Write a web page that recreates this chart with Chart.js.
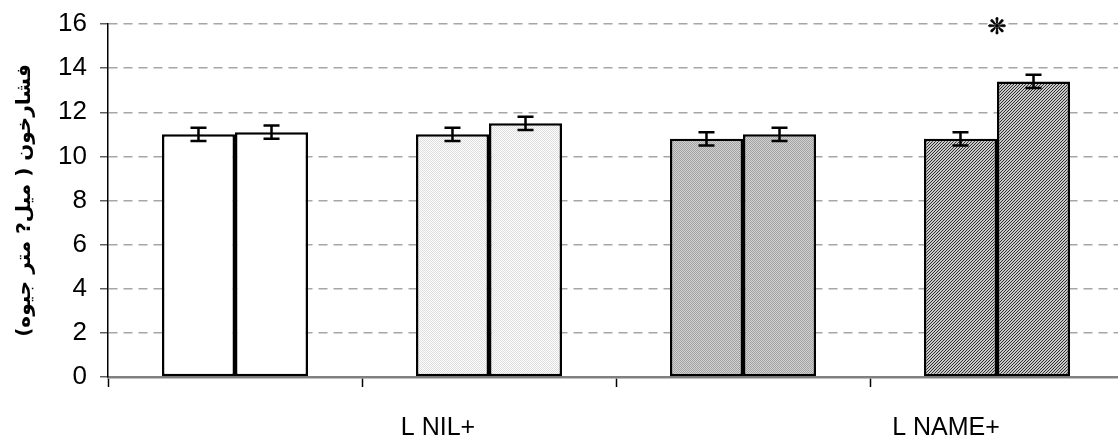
<!DOCTYPE html>
<html>
<head>
<meta charset="utf-8">
<script src="https://cdn.jsdelivr.net/npm/chart.js@4"></script>
<style>
  html, body { margin: 0; padding: 0; background: #fff; overflow: hidden; }
  #wrap { width: 1124px; height: 444px; }
</style>
</head>
<body>
<div id="wrap"><canvas id="myChart" width="1124" height="444"></canvas></div>
<script>
// datos
const categorias = ['', 'L NIL+', '', 'L NAME+'];
const serieA = [11.0, 11.0, 10.8, 10.8];
const serieB = [11.1, 11.5, 11.0, 13.4];
const errorA = [0.3, 0.3, 0.3, 0.3];
const errorB = [0.3, 0.3, 0.3, 0.3];
const marcaGrupo = [3];
const marcaValor = [15.8];
const ticksY = [0, 2, 4, 6, 8, 10, 12, 14, 16];
const tituloY = 'فشارخون ( میل? متر جیوه)';

// tramas de relleno para cada grupo
function trama(dibujar, tam) {
    const c = document.createElement('canvas');
    c.width = tam; c.height = tam;
    const g = c.getContext('2d');
    dibujar(g);
    return g.createPattern(c, 'repeat');
}

const ctx = document.getElementById('myChart').getContext('2d');

const rellenoBlanco = '#ffffff';
const rellenoClaro = trama(g => {
    g.fillStyle = '#ffffff'; g.fillRect(0, 0, 2, 2);
    g.fillStyle = '#dcdcdc'; g.fillRect(0, 0, 1, 1); g.fillRect(1, 1, 1, 1);
}, 2);
const rellenoMedio = trama(g => {
    g.fillStyle = '#d2d2d2'; g.fillRect(0, 0, 2, 2);
    g.fillStyle = '#a2a2a2'; g.fillRect(0, 0, 1, 1); g.fillRect(1, 1, 1, 1);
}, 2);
const rellenoOscuro = trama(g => {
    g.fillStyle = '#c8c8c8'; g.fillRect(0, 0, 3, 3);
    g.fillStyle = '#303030';
    g.fillRect(2, 0, 1, 1); g.fillRect(1, 1, 1, 1); g.fillRect(0, 2, 1, 1);
}, 3);
const rellenos = [rellenoBlanco, rellenoClaro, rellenoMedio, rellenoOscuro];

const errores = [errorA, errorB];

const pluginErrores = {
    id: 'errores',
    afterDatasetsDraw(chart) {
        const c = chart.ctx;
        const y = chart.scales.y;
        c.save();
        c.strokeStyle = '#000';
        c.lineWidth = 2.5;
        chart.data.datasets.forEach((ds, i) => {
            const meta = chart.getDatasetMeta(i);
            meta.data.forEach((bar, j) => {
                const v = ds.data[j];
                const e = errores[i][j];
                const yArr = y.getPixelForValue(v + e);
                const yAb = y.getPixelForValue(v - e);
                c.beginPath();
                c.moveTo(bar.x, yArr); c.lineTo(bar.x, yAb);
                c.moveTo(bar.x - 8, yArr); c.lineTo(bar.x + 8, yArr);
                c.moveTo(bar.x - 8, yAb); c.lineTo(bar.x + 8, yAb);
                c.stroke();
            });
        });
        // marca de significancia
        c.fillStyle = '#000';
        c.strokeStyle = '#000';
        c.lineWidth = 0.8;
        c.font = '22px "DejaVu Sans"';
        c.textAlign = 'center';
        c.textBaseline = 'middle';
        marcaGrupo.forEach((g, k) => {
            const px = chart.scales.x.getPixelForValue(g);
            const py = y.getPixelForValue(marcaValor[k]);
            c.fillText('❊', px, py);
            c.strokeText('❊', px, py);
        });
        c.restore();
    }
};

new Chart(ctx, {
    type: 'bar',
    data: {
        labels: categorias,
        datasets: [
            {
                data: serieA,
                backgroundColor: rellenos,
                borderColor: '#000',
                borderWidth: 2.5,
                borderSkipped: false
            },
            {
                data: serieB,
                backgroundColor: rellenos,
                borderColor: '#000',
                borderWidth: 2.5,
                borderSkipped: false
            }
        ]
    },
    plugins: [pluginErrores],
    options: {
        responsive: false,
        animation: false,
        categoryPercentage: 0.575,
        barPercentage: 1.0,
        layout: { padding: { top: 4, right: 0, bottom: 0, left: 0 } },
        plugins: {
            legend: { display: false },
            tooltip: { enabled: false }
        },
        scales: {
            x: {
                grid: {
                    offset: true,
                    drawOnChartArea: false,
                    tickLength: 10,
                    tickColor: '#000',
                    tickWidth: 1.5
                },
                border: { color: '#808080', width: 2.5 },
                ticks: {
                    color: '#000',
                    font: { family: 'Liberation Sans', size: 25 },
                    padding: 26,
                    labelOffset: -51,
                    maxRotation: 0,
                    autoSkip: false
                },
                afterFit(s) { s.height = 67; }
            },
            y: {
                min: 0,
                max: 16,
                afterBuildTicks(s) { s.ticks = ticksY.map(v => ({ value: v })); },
                grid: {
                    color: '#a6a6a6',
                    lineWidth: 1.5,
                    tickLength: 8,
                    tickColor: '#606060',
                    tickWidth: 1.5
                },
                border: { color: '#000', width: 1.5, dash: [9, 6] },
                ticks: {
                    color: '#000',
                    font: { family: 'Liberation Sans', size: 26, lineHeight: 0.85 },
                    padding: 13
                },
                title: {
                    display: true,
                    text: tituloY,
                    color: '#000',
                    font: { family: 'DejaVu Sans', size: 20, weight: 'bold' },
                    padding: { top: 13, bottom: 0 }
                },
                afterFit(s) { s.width = 108; }
            }
        }
    }
});
</script>
</body>
</html>
